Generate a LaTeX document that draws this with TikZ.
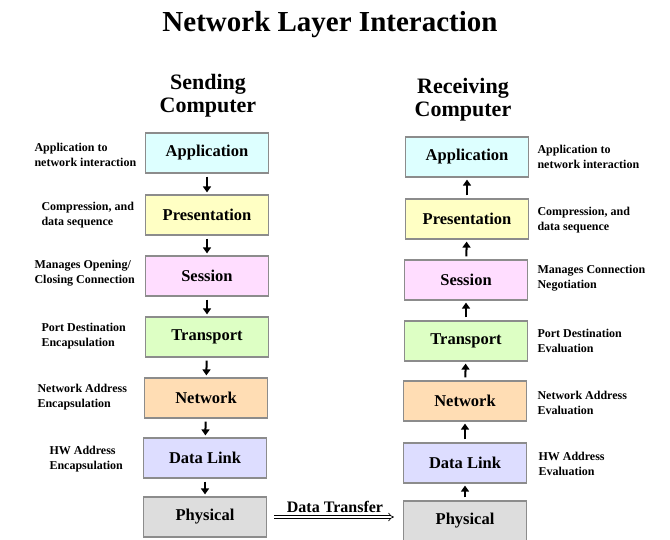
\documentclass[tikz,border=0pt]{standalone}
\usepackage{fontspec}
\usepackage{xcolor}
\setmainfont{Liberation Serif}
\usetikzlibrary{arrows.meta}

\definecolor{appcol}{HTML}{DDFFFF}
\definecolor{precol}{HTML}{FFFFC4}
\definecolor{sescol}{HTML}{FFDDFF}
\definecolor{tracol}{HTML}{DDFFC4}
\definecolor{netcol}{HTML}{FFDDB4}
\definecolor{dlkcol}{HTML}{DDDDFF}
\definecolor{phycol}{HTML}{DDDDDD}

\tikzset{
  layer/.style={draw=black!45, line width=1.2pt, minimum width=123pt, minimum height=40pt,
    font=\fontsize{16.5}{18}\selectfont\bfseries},
  note/.style={align=left, font=\fontsize{12}{15}\selectfont\bfseries},
  head/.style={align=center, font=\fontsize{22}{23}\selectfont\bfseries},
  flow/.style={line width=2pt, -{Triangle[width=8pt,length=6pt]}, shorten <=3pt, shorten >=2pt}
}

\begin{document}
\begin{tikzpicture}[x=1pt, y=-1pt]
        \useasboundingbox (0,0) rectangle (670,539);
        \node[font=\fontsize{29}{32}\selectfont\bfseries] (title) at (330,25) {Network Layer Interaction};
        \node[head] (send) at (208,96) {Sending\\Computer};
        \node[head] (recv) at (463,100) {Receiving\\Computer};
        % sending side
        \node[layer, fill=appcol] (sApp) at (207,153) {Application};
        \node[layer, fill=precol] (sPre) at (207,215) {Presentation};
        \node[layer, fill=sescol] (sSes) at (207,276) {Session};
        \node[layer, fill=tracol] (sTra) at (207,337) {Transport};
        \node[layer, fill=netcol] (sNet) at (206,398) {Network};
        \node[layer, fill=dlkcol] (sDlk) at (205,458) {Data Link};
        \node[layer, fill=phycol] (sPhy) at (205,517) {Physical};
        \node[note, anchor=west] (sAppN) at (31,155) {Application to\\network interaction};
        \node[note, anchor=west] (sPreN) at (38,215) {Compression, and\\data sequence};
        \node[note, anchor=west] (sSesN) at (31,273) {Manages Opening/\\Closing Connection};
        \node[note, anchor=west] (sTraN) at (38,336) {Port Destination\\Encapsulation};
        \node[note, anchor=west] (sNetN) at (34,397) {Network Address\\Encapsulation};
        \node[note, anchor=west] (sDlkN) at (46,459) {HW Address\\Encapsulation};
        \draw[flow] (sApp) -- (sPre);
        \draw[flow] (sPre) -- (sSes);
        \draw[flow] (sSes) -- (sTra);
        \draw[flow] (sTra) -- (sNet);
        \draw[flow] (sNet) -- (sDlk);
        \draw[flow] (sDlk) -- (sPhy);
        % receiving side
        \node[layer, fill=appcol] (rApp) at (467,157) {Application};
        \node[layer, fill=precol] (rPre) at (467,219) {Presentation};
        \node[layer, fill=sescol] (rSes) at (466,280) {Session};
        \node[layer, fill=tracol] (rTra) at (466,341) {Transport};
        \node[layer, fill=netcol] (rNet) at (465,401) {Network};
        \node[layer, fill=dlkcol] (rDlk) at (465,463) {Data Link};
        \node[layer, fill=phycol] (rPhy) at (465,521) {Physical};
        \node[note, anchor=west] (rAppN) at (534,157) {Application to\\network interaction};
        \node[note, anchor=west] (rPreN) at (534,220) {Compression, and\\data sequence};
        \node[note, anchor=west] (rSesN) at (534,278) {Manages Connection\\Negotiation};
        \node[note, anchor=west] (rTraN) at (534,341) {Port Destination\\Evaluation};
        \node[note, anchor=west] (rNetN) at (534,403) {Network Address\\Evaluation};
        \node[note, anchor=west] (rDlkN) at (535,464) {HW Address\\Evaluation};
        \draw[flow] (rPhy) -- (rDlk);
        \draw[flow] (rDlk) -- (rNet);
        \draw[flow] (rNet) -- (rTra);
        \draw[flow] (rTra) -- (rSes);
        \draw[flow] (rSes) -- (rPre);
        \draw[flow] (rPre) -- (rApp);
        % link between the two
        \draw[double, double distance=2.2pt, line width=0.7pt, -{Implies[length=6pt]}, shorten <=7pt, shorten >=9pt]
          (sPhy.east) -- (sPhy.east -| rPhy.west) node[midway, above=1pt, font=\fontsize{16}{18}\selectfont\bfseries] {Data Transfer};
    \end{tikzpicture}
\end{document}
